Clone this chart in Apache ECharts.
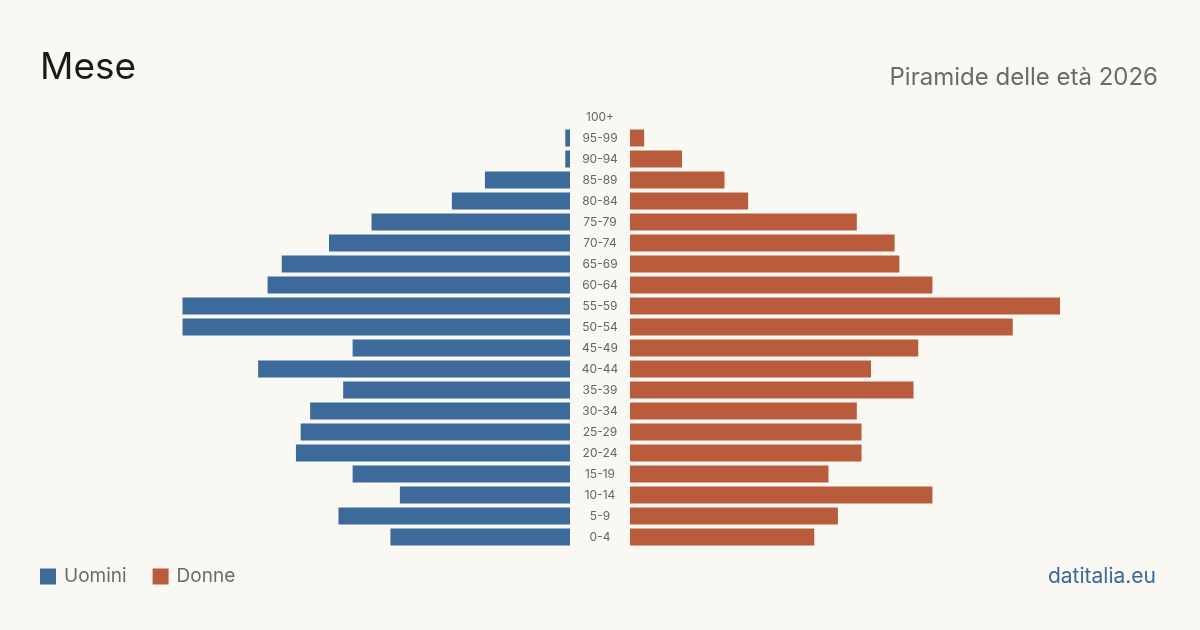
<!DOCTYPE html>
<html>
<head>
<meta charset="utf-8">
<script src="https://cdn.jsdelivr.net/npm/echarts@6/dist/echarts.min.js"></script>
<style>
html,body{margin:0;padding:0;background:#f9f8f3;}
#c{width:1200px;height:630px;}
</style>
</head>
<body>
<div id="c"></div>
<script>
const ageGroups = ['0-4','5-9','10-14','15-19','20-24','25-29','30-34','35-39','40-44','45-49','50-54','55-59','60-64','65-69','70-74','75-79','80-84','85-89','90-94','95-99','100+'];
const men   = [38,49,36,46,58,57,55,48,66,46,82,82,64,61,51,42,25,18,1,1,0];
const women = [39,44,64,42,49,49,48,60,51,61,81,91,64,57,56,48,25,20,11,3,0];
const axisMax = 91;

const font = 'Inter, "Noto Sans", sans-serif';
const chart = echarts.init(document.getElementById('c'), null, {renderer:'canvas'});
chart.setOption({
  backgroundColor: '#f9f8f3',
  animation: false,
  textStyle: {fontFamily: font},
  title: [
    {text: 'Mese', left: 40, top: 49, padding: 0, textStyle: {fontSize: 37, fontWeight: 'normal', color: '#1a1a1a', fontFamily: font}},
    {text: 'Piramide delle età 2026', right: 42, top: 66, padding: 0, textStyle: {fontSize: 24, fontWeight: 'normal', color: '#6b6b6b', fontFamily: font}},
    {text: 'datitalia.eu', right: 44, top: 566, padding: 0, textStyle: {fontSize: 21, fontWeight: 'normal', color: '#3b6a9b', fontFamily: font}}
  ],
  legend: {
    left: 40, top: 567, padding: 0,
    itemWidth: 16, itemHeight: 16, itemGap: 26,
    icon: 'rect',
    textStyle: {fontSize: 19, color: '#6b6b6b', fontFamily: font, padding: [0,0,0,3]},
    data: ['Uomini','Donne']
  },
  grid: [
    {left: 140, width: 430, top: 106.5, height: 441},
    {left: 630, width: 430, top: 106.5, height: 441}
  ],
  xAxis: [
    {gridIndex: 0, type: 'value', min: 0, max: axisMax, inverse: true, show: false},
    {gridIndex: 1, type: 'value', min: 0, max: axisMax, show: false}
  ],
  yAxis: [
    {gridIndex: 0, type: 'category', data: ageGroups, position: 'right',
     axisLine: {show: false}, axisTick: {show: false}, splitLine: {show: false},
     axisLabel: {margin: 30, align: 'center', fontSize: 12, color: '#666', fontFamily: font}},
    {gridIndex: 1, type: 'category', data: ageGroups, show: false}
  ],
  series: [
    {name: 'Uomini', type: 'bar', xAxisIndex: 0, yAxisIndex: 0, data: men,
     barCategoryGap: '19%', itemStyle: {color: '#3b6a9b'}, silent: true},
    {name: 'Donne', type: 'bar', xAxisIndex: 1, yAxisIndex: 1, data: women,
     barCategoryGap: '19%', itemStyle: {color: '#b95c3c'}, silent: true}
  ]
});
</script>
</body>
</html>
